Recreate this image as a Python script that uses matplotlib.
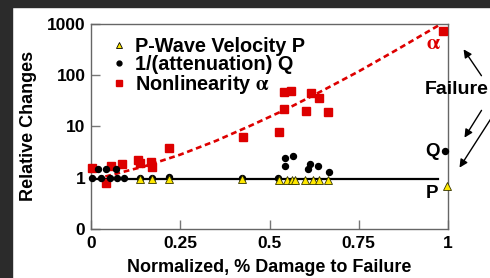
import matplotlib
matplotlib.use("Agg")
import matplotlib.pyplot as plt
from matplotlib.lines import Line2D
from matplotlib.patches import Rectangle

plt.rcParams['font.family'] = ['Liberation Sans', 'DejaVu Sans']
plt.rcParams['font.weight'] = 'bold'
plt.rcParams['axes.labelweight'] = 'bold'
plt.rcParams['mathtext.fontset'] = 'stix'

# nonlinearity alpha (red squares)
alpha_x = [0.002, 0.042, 0.056, 0.086, 0.132, 0.137, 0.168, 0.172, 0.219, 0.425,
           0.527, 0.541, 0.541, 0.56, 0.601, 0.615, 0.639, 0.663, 0.987]
alpha_y = [1.52, 0.78, 1.69, 1.82, 2.2, 1.9, 2.05, 1.6, 3.84, 6.3,
           7.6, 21.7, 45.8, 48.6, 20.1, 45, 35, 18.7, 714]

# 1/(attenuation) Q (black dots)
q_x = [0.002, 0.02, 0.027, 0.041, 0.053, 0.069, 0.074, 0.093, 0.137, 0.17, 0.219,
       0.424, 0.525, 0.543, 0.543, 0.565, 0.609, 0.613, 0.635, 0.667, 0.992]
q_y = [1.0, 1.46, 1.0, 1.46, 1.0, 1.46, 1.0, 1.0, 1.0, 1.0, 1.05,
       1.0, 1.0, 1.71, 2.4, 2.64, 1.46, 1.85, 1.71, 1.31, 3.3]

# P-wave velocity (yellow triangles)
p_x = [0.137, 0.17, 0.219, 0.424, 0.527, 0.548, 0.564, 0.571, 0.599, 0.621, 0.639, 0.665, 0.996]
p_y = [0.92, 0.92, 0.92, 0.92, 0.9, 0.9, 0.9, 0.9, 0.9, 0.9, 0.9, 0.9, 0.69]

# dashed trend for alpha
fit_x = [0.04, 0.15, 0.25, 0.35, 0.45, 0.55, 0.65, 0.75, 0.85, 0.975]
fit_y = [1.05, 1.66, 2.8, 5.2, 10.5, 22, 50, 117, 290, 930]

# flat reference line
base_x = [0.0, 0.972]
base_y = [0.95, 0.95]

y_ticks = [0.1, 1, 10, 100, 1000]
y_ticklabels = ['0', '1', '10', '100', '1000']
x_ticks = [0, 0.25, 0.5, 0.75, 1]
x_ticklabels = ['0', '0.25', '0.5', '0.75', '1']

red = '#dd0000'
yellow = '#ffe800'

fig = plt.figure(figsize=(4.9, 2.78), dpi=100)
fig.add_artist(Rectangle((0, 0), 12 / 490, 1, transform=fig.transFigure,
                         color='#2b2b2b', zorder=0))
fig.add_artist(Rectangle((0, 1 - 7 / 278), 1, 7 / 278, transform=fig.transFigure,
                         color='#2b2b2b', zorder=0))

ax = fig.add_axes([91 / 490, 1 - 229 / 278, 357 / 490, 205.5 / 278])
ax.set_yscale('log')
ax.set_xlim(0, 1)
ax.set_ylim(0.1, 1000)

ax.plot(base_x, base_y, color='black', lw=1.6, zorder=2)
ax.plot(fit_x, fit_y, color=red, lw=1.9, ls=(0, (2.2, 1.4)), zorder=2)
ax.plot(alpha_x, alpha_y, 's', color=red, ms=5.4, mec=red, zorder=3, clip_on=False)
ax.plot(q_x, q_y, 'o', color='black', ms=4.3, zorder=4, clip_on=False)
ax.plot(p_x, p_y, '^', color=yellow, mec='#333300', mew=0.6, ms=6, zorder=5, clip_on=False)

ax.set_xticks(x_ticks)
ax.set_xticklabels(x_ticklabels)
ax.set_yticks(y_ticks)
ax.set_yticklabels(y_ticklabels)
ax.minorticks_off()
ax.tick_params(direction='in', length=6.5, width=1, color='#777777',
               labelsize=12.5, pad=4)
ax.tick_params(axis='x', pad=5)
for s in ax.spines.values():
    s.set_color('#666666')
    s.set_linewidth(1)

ax.set_xlabel('Normalized, % Damage to Failure', fontsize=13, labelpad=6)
ax.set_ylabel('Relative Changes', fontsize=13, labelpad=7)

handles = [
    Line2D([], [], ls='none', marker='^', color=yellow, mec='black', mew=0.6, ms=5),
    Line2D([], [], ls='none', marker='o', color='black', ms=3.5),
    Line2D([], [], ls='none', marker='s', color=red, ms=4.5),
]
labels = ['P-Wave Velocity P', '1/(attenuation) Q', r'Nonlinearity $\mathrm{\alpha}$']
ax.legend(handles, labels, loc='upper left', bbox_to_anchor=(0.055, 0.935),
          frameon=False, fontsize=14.3, labelspacing=-0.05, handlelength=0.8,
          handletextpad=0.45, borderpad=0, borderaxespad=0)

ax.text(0.958, 0.905, r'$\mathrm{\alpha}$', color=red, fontsize=15,
        transform=ax.transAxes, ha='center', va='center')

# labels and arrows pointing at failure, outside the axes
fig.text(425 / 490, 1 - 90 / 278, 'Failure', fontsize=14, va='center', ha='left')
fig.text(432 / 490, 1 - 151 / 278, 'Q', fontsize=13.5, va='center', ha='center')
fig.text(432 / 490, 1 - 193 / 278, 'P', fontsize=13.5, va='center', ha='center')
arrow = dict(arrowstyle='-|>', color='black', lw=1, mutation_scale=12)
for (x0, y0), (x1, y1) in [((483, 78), (462, 47)), ((483, 108), (463, 140)),
                           ((492, 117), (458, 170))]:
    ax.annotate('', xy=(x1 / 490, 1 - y1 / 278), xycoords='figure fraction',
                xytext=(x0 / 490, 1 - y0 / 278), textcoords='figure fraction',
                arrowprops=arrow, annotation_clip=False)

fig.savefig('out.png', dpi=100)
